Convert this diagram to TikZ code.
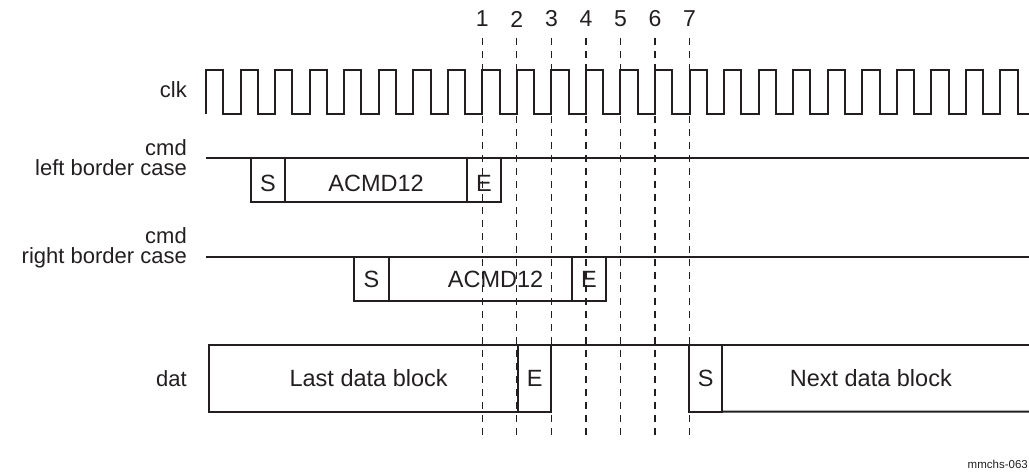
\documentclass[tikz,border=0pt]{standalone}
\usepackage{fontspec}
\setmainfont{Liberation Sans}
\usetikzlibrary{positioning, calc}
\definecolor{ink}{HTML}{231F20}

\begin{document}
\begin{tikzpicture}[
    x=1pt, y=-1pt,
    sig/.style={line width=2pt, color=ink, line join=miter},
    box/.style={rectangle, draw=ink, line width=2pt, inner sep=0pt, outer sep=0pt, anchor=north west, minimum height=43.4pt, text=ink, font=\fontsize{23.5}{26}\selectfont},
    lowtext/.style={text height=23.4pt, text depth=0pt},
    datbox/.style={box, minimum height=66.7pt},
    boxtext/.style={inner sep=0pt, text=ink, font=\fontsize{23.5}{26}\selectfont},
    signame/.style={inner sep=0pt, align=right, text=ink, font=\fontsize{22}{20.5}\selectfont},
    edgenum/.style={inner sep=0pt, text=ink, font=\fontsize{23}{26}\selectfont},
    guide/.style={color=ink, line width=1.2pt, dash pattern=on 7pt off 6pt},
  ]
  \useasboundingbox (0,0) rectangle (1029,474);
  \def\per{34.54}

  % signal names
  \node[signame, anchor=base east] (clkname) at (187,97.7) {clk};
  \node[signame, anchor=east] (leftname) at (187,157.5) {cmd\\left border case};
  \node[signame, anchor=east] (rightname) at (187,248) {cmd\\right border case};
  \node[signame, anchor=base east] (datname) at (187,386) {dat};

  % clock
  \draw[sig] (206,114) foreach \k in {0,...,22} { -- ++(0,-44) -- ++(\per/2,0) -- ++(0,44) -- ++(\per/2,0) }
    -- ++(0,-44) -- ++(\per/2,0) -- ++(0,44) -- (1029,114);

  % cmd, left border case
  \draw[sig] (206,158.3) -- (1029,158.3);
  \node[box, lowtext, minimum width=34.3pt] (sL) at (250.7,158.3) {S};
  \node[box, lowtext, minimum width=182.3pt, right=0pt of sL] (aL) {ACMD12};
  \node[box, lowtext, minimum width=33.4pt, right=0pt of aL] (eL) {E};

  % cmd, right border case
  \draw[sig] (206,257.3) -- (1029,257.3);
  \node[box, minimum width=35pt] (sR) at (354,257.3) {S};
  \node[box, minimum width=182.7pt, right=0pt of sR,
    label={[boxtext, xshift=15.3pt]center:ACMD12}] (aR) {};
  \node[box, minimum width=34.3pt, right=0pt of aR] (eR) {E};

  % dat
  \node[datbox, minimum width=309.3pt,
    label={[boxtext, xshift=5pt]center:Last data block}] (last) at (209,345) {};
  \node[datbox, minimum width=32.7pt, right=0pt of last] (edat) {E};
  \node[datbox, minimum width=33.3pt] (sdat) at (689,345) {S};
  \node[boxtext] (next) at (870.8,378.3) {Next data block};
  \draw[sig] (edat.north east) -- (sdat.north west);
  \draw[sig] (sdat.north east) -- (1029,345);
  \draw[sig] (sdat.south east) -- (1029,411.7);

  % clock edges 1 to 7
  \foreach \i in {1,...,7} {
    \node[edgenum] (num\i) at (206+7*\per+\i*\per,19) {\i};
    \draw[guide] (num\i.south |- 0,38) -- (num\i.south |- 0,440);
  }

  \node[inner sep=0pt, anchor=base east, text=ink, font=\fontsize{11.5}{13}\selectfont] (figid) at (1028,468.5) {mmchs-063};
\end{tikzpicture}
\end{document}
